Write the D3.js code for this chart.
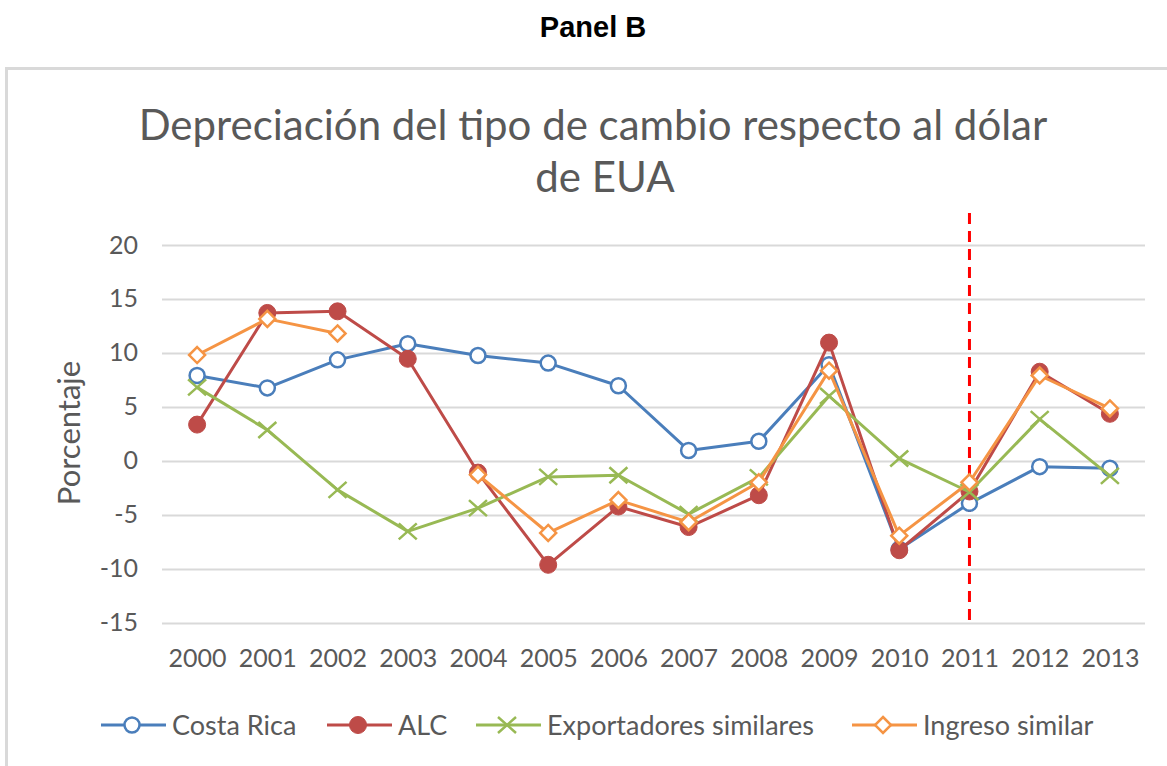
<!DOCTYPE html>
<html>
<head>
<meta charset="utf-8">
<script src="https://cdn.jsdelivr.net/npm/d3@7"></script>
<style>
  body { margin: 0; background: #fff; }
  svg text { font-family: Lato, "Open Sans", sans-serif; fill: #595959; }
</style>
</head>
<body>
<div id="chart"></div>
<script>
// Data
const years = ["2000","2001","2002","2003","2004","2005","2006","2007","2008","2009","2010","2011","2012","2013"];
const costaRica = [7.9, 6.75, 9.35, 10.85, 9.75, 9.05, 6.95, 0.95, 1.8, 8.9, -8.2, -3.95, -0.55, -0.7];
const alc = [3.35, 13.7, 13.85, 9.45, -1.1, -9.65, -4.25, -6.15, -3.2, 10.95, -8.3, -2.85, 8.25, 4.35];
const exportadores = [6.8, 2.85, -2.7, -6.55, -4.4, -1.5, -1.35, -4.95, -1.55, 6.0, 0.2, -2.9, 3.85, -1.4];
const ingreso = [9.8, 13.15, 11.8, null, -1.3, -6.7, -3.65, -5.7, -2.0, 8.35, -6.95, -2.0, 7.9, 4.85];
const yTicks = [20, 15, 10, 5, 0, -5, -10, -15];
const markYear = "2011";

const series = [
  { name: "Costa Rica", values: costaRica, color: "#4a7ebb", marker: "circle" },
  { name: "ALC", values: alc, color: "#be4b48", marker: "dot" },
  { name: "Exportadores similares", values: exportadores, color: "#98b954", marker: "x" },
  { name: "Ingreso similar", values: ingreso, color: "#f59444", marker: "diamond" }
];

const width = 1167, height = 766;
const svg = d3.select("#chart").append("svg")
  .attr("width", width)
  .attr("height", height);

// panel heading
svg.append("text")
  .attr("x", 593)
  .attr("y", 37)
  .attr("text-anchor", "middle")
  .style("font-family", "'Liberation Sans', Arial, sans-serif")
  .style("font-weight", "bold")
  .style("font-size", "29px")
  .style("fill", "#000")
  .text("Panel B");

// chart frame
svg.append("rect")
  .attr("x", 6.5)
  .attr("y", 68.5)
  .attr("width", 1170)
  .attr("height", 720)
  .attr("fill", "none")
  .attr("stroke", "#d9d9d9")
  .attr("stroke-width", 3);

svg.append("text")
  .attr("x", 593)
  .attr("y", 140)
  .attr("text-anchor", "middle")
  .style("font-size", "42px")
  .text("Depreciación del tipo de cambio respecto al dólar");

svg.append("text")
  .attr("x", 605)
  .attr("y", 192)
  .attr("text-anchor", "middle")
  .style("font-size", "42px")
  .text("de EUA");

const x = d3.scalePoint()
  .domain(years)
  .range([162, 1145])
  .padding(0.5);

const y = d3.scaleLinear()
  .domain([-15, 20])
  .range([622.5, 245]);

// gridlines
svg.append("g")
  .selectAll("line")
  .data(yTicks)
  .enter().append("line")
  .attr("x1", 162)
  .attr("x2", 1145)
  .attr("y1", d => Math.round(y(d)) + 0.5)
  .attr("y2", d => Math.round(y(d)) + 0.5)
  .attr("stroke", "#d9d9d9")
  .attr("stroke-width", 2);

// y axis labels
const yAxis = svg.append("g")
  .attr("transform", "translate(162,0)")
  .call(d3.axisLeft(y).tickValues(yTicks).tickFormat(d => String(d)).tickSize(0).tickPadding(24));
yAxis.select(".domain").remove();
yAxis.selectAll("text")
  .style("font-size", "25px")
  .style("font-family", "Lato, sans-serif")
  .attr("fill", "#595959");

// x axis labels
const xAxis = svg.append("g")
  .attr("transform", "translate(0,622)")
  .call(d3.axisBottom(x).tickSize(0).tickPadding(27));
xAxis.select(".domain").remove();
xAxis.selectAll("text")
  .style("font-size", "25px")
  .style("font-family", "Lato, sans-serif")
  .attr("fill", "#595959");

svg.append("text")
  .attr("transform", "translate(80,433) rotate(-90)")
  .attr("text-anchor", "middle")
  .style("font-size", "31px")
  .text("Porcentaje");

// 2011 marker line
svg.append("line")
  .attr("x1", x(markYear))
  .attr("x2", x(markYear))
  .attr("y1", 213)
  .attr("y2", 622)
  .attr("stroke", "#ff0000")
  .attr("stroke-width", 3)
  .attr("stroke-dasharray", "11,7");

function drawMarker(g, type, color) {
  if (type === "circle") {
    g.append("circle").attr("r", 7.5).attr("fill", "#fff").attr("stroke", color).attr("stroke-width", 2.5);
  } else if (type === "dot") {
    g.append("circle").attr("r", 8.5).attr("fill", color).attr("stroke", color).attr("stroke-width", 1);
  } else if (type === "x") {
    g.append("path").attr("d", "M-9,-8L9,8M-9,8L9,-8").attr("stroke", color).attr("stroke-width", 2.5).attr("fill", "none");
  } else if (type === "diamond") {
    g.append("path").attr("d", "M0,-8L8,0L0,8L-8,0Z").attr("fill", "#fff").attr("stroke", color).attr("stroke-width", 2.5);
  }
}

const line = d3.line()
  .defined(d => d.v !== null)
  .x(d => x(d.year))
  .y(d => y(d.v));

series.forEach(s => {
  const pts = years.map((yr, i) => ({ year: yr, v: s.values[i] }));
  svg.append("path")
    .datum(pts)
    .attr("fill", "none")
    .attr("stroke", s.color)
    .attr("stroke-width", 3)
    .attr("stroke-linejoin", "round")
    .attr("d", line);
  pts.filter(d => d.v !== null).forEach(d => {
    const g = svg.append("g").attr("transform", `translate(${x(d.year)},${y(d.v)})`);
    drawMarker(g, s.marker, s.color);
  });
});

// legend
const legendX = [101, 327, 476, 852];
const legend = svg.append("g").attr("transform", "translate(0,725)");
series.forEach((s, i) => {
  const g = legend.append("g").attr("transform", `translate(${legendX[i]},0)`);
  g.append("line")
    .attr("x1", 0).attr("x2", 65)
    .attr("stroke", s.color)
    .attr("stroke-width", 3);
  drawMarker(g.append("g").attr("transform", "translate(31,0)"), s.marker, s.color);
  g.append("text")
    .attr("x", 71)
    .attr("y", 10)
    .style("font-size", "27px")
    .text(s.name);
});
</script>
</body>
</html>
